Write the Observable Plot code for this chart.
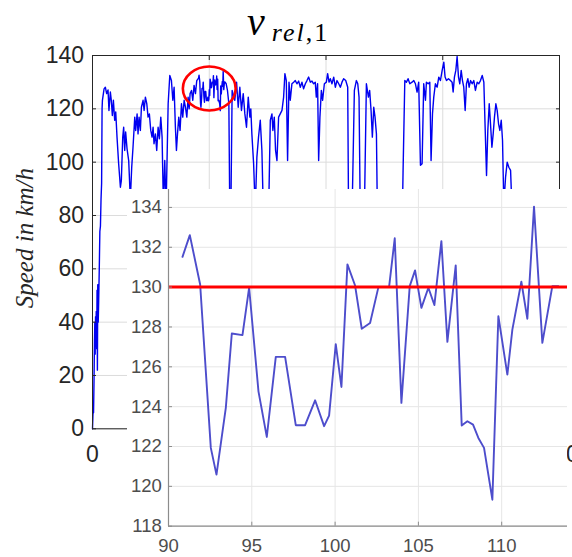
<!DOCTYPE html>
<html>
<head>
<meta charset="utf-8">
<script src="https://cdn.jsdelivr.net/npm/d3@7"></script>
<script src="https://cdn.jsdelivr.net/npm/@observablehq/plot@0.6"></script>
<style>
  html, body { margin: 0; padding: 0; background: #fff; }
  #fig { position: relative; width: 572px; height: 557px; overflow: hidden; }
  #main { position: absolute; left: 0; top: 0; }
  #inset { position: absolute; left: 127px; top: 189px; }
  #title {
    position: absolute; left: 247px; top: 2px;
    font-family: "Liberation Serif", "Times New Roman", serif; font-size: 40px; line-height: 40px;
    white-space: nowrap; color: #000;
  }
  #title sub { font-size: 26px; vertical-align: -6px; letter-spacing: 2px; margin-left: 7px; }
</style>
</head>
<body>
<div id="fig">
  <div id="main"></div>
  <div id="inset"></div>
  <div id="title"><i>v</i><sub><i>rel</i>,1</sub></div>
</div>
<script>
// Full drive: position along the route and recorded speed (km/h)
const mainX = [
  0, 0.6, 0.9, 1.3, 1.7, 2.0, 2.3, 2.6, 2.9, 3.2, 3.6, 3.9, 4.2, 4.5, 4.9, 5.3, 5.8, 6.3, 6.8, 7.3, 7.8, 8.2, 8.5,
  9.9, 11.0, 12.1, 13.3, 14.1, 15.3, 16.1, 17.0, 17.9, 19.0, 19.9, 21.0, 22.4, 23.9, 24.7, 25.9, 26.7, 27.6, 28.4, 29.6,
  31.0, 32.4, 33.6, 34.7, 36.2, 37.0, 38.2, 39.0, 39.9, 41.0, 41.9, 43.3, 44.2, 45.3, 46.5, 47.6, 48.7, 49.9, 51.0,
  51.9, 52.7, 53.9, 55.0, 56.2, 57.3, 58.5, 59.6, 60.7, 61.9, 63.0, 64.8, 66.2, 67.6, 68.8, 69.9, 71.0, 71.9, 72.8,
  73.9, 75.0, 76.2, 77.3, 78.5, 79.6, 80.8, 81.9, 82.8, 83.6, 84.8, 85.9, 87.0, 88.2, 89.3,
  114.5, 115.6, 116.8, 117.6, 118.6, 119.6, 121.9, 123.4, 124.8, 126.2, 127.6, 129.1, 130.5, 131.9, 133.4, 134.8,
  135.6, 136.5, 138.0, 139.4, 140.8, 142.2, 143.7, 145.1, 146.5, 148.5, 150.8, 152.3, 153.7, 154.5, 155.7, 156.8,
  158.0, 159.4, 160.8, 162.3, 163.7, 164.8, 166.0, 167.1, 168.3, 169.4, 170.8, 172.3, 173.7, 175.1, 176.6, 178.0,
  179.4, 180.8, 182.3, 183.7, 185.1, 186.6, 188.0, 189.4, 190.8, 191.7, 192.8, 193.7, 194.8, 196.0, 197.1, 198.6,
  200.3, 201.4, 202.6, 203.7, 205.1, 206.6, 208.0, 209.4, 210.9, 212.3, 213.7, 215.1, 216.9, 218.6, 219.4, 222.3,
  224.3, 226.0, 227.2, 228.3, 229.4, 232.9, 234.6, 236.3, 237.4, 238.6, 239.7, 240.9, 242.0, 243.2, 244.3, 252,
  260, 265.2, 266.0, 267.5, 268.9, 270.3, 271.8, 273.7, 275.2, 276.6, 278.0, 279.4, 280.9, 282.3, 283.7, 285.2,
  286.0, 287.5, 288.9, 290.0, 291.2, 292.3, 293.7, 295.2, 296.6, 298.0, 299.5, 300.9, 302.0, 303.2, 304.9, 306.6,
  308.0, 308.9, 310.0, 311.2, 312.3, 313.5, 314.6, 315.8, 316.9, 318.0, 319.2, 320.3, 321.5, 322.6, 323.8, 325.2,
  326.6, 328.0, 329.5, 330.9, 332.3, 333.8, 335.2, 336.3, 337.5, 338.6, 339.8, 340.9, 342.1, 343.2, 344.3, 345.5,
  346.6, 347.8, 348.9, 350.1, 351.2, 352.3, 353.8, 355.2, 356.6, 358.1, 359.5, 362, 364
];
const mainSpeed = [
  0, 8, 6, 18, 33, 40, 28, 42, 33, 44, 30, 52, 22, 54, 40, 48, 60, 74, 76, 86, 92, 120, 123.2,
  127.5, 128.1, 125.7, 127.1, 119.4, 126.3, 123.2, 117.5, 123.2, 115.7, 118.8, 109.4, 99.4, 90.6, 93.1, 109.4, 113.1, 104.4, 111.3, 105,
  100.6, 86, 98.2, 105.6, 116.9, 111.9, 118.1, 110.6, 116.9, 111.9, 120.6, 123.2, 119.4, 124.4, 121.9, 116.9, 118.1, 111.9, 109.4,
  113.1, 106.9, 110.6, 104.4, 113.1, 108.8, 116.9, 109.4, 84, 100.6, 82, 121.9, 132.5, 130.6, 123.2, 128.1, 113.1, 104.4, 110.6,
  116.9, 111.9, 121.9, 116.9, 123.2, 120.6, 116.9, 124.4, 120.0, 125.7, 126.9, 123.2, 128.8, 125.7, 130.6,
  129.4, 126.9, 121.9, 80, 85, 126.9, 123.2, 130, 120.6, 128.1, 119.4, 125.7, 118.1, 113.1, 124.4, 116.9,
  120, 110.6, 99.4, 82, 101.9, 109.4, 115.7, 104.4, 78, 70, 80, 115.7, 118.1, 111.9, 116.9, 104.4,
  100.6, 116.9, 118.1, 119.4, 124.4, 133.2, 130.6, 100.6, 130, 123.2, 129.4, 130, 130.6, 129.4, 130.4, 128.1,
  130, 127.5, 129.4, 130.6, 131.9, 130, 130.4, 129.4, 130, 124.4, 129.4, 100.6, 116.9, 126.9, 123.2, 129.4,
  130, 133.2, 130, 131.3, 129.4, 131.9, 128.1, 130.6, 129.4, 128.1, 130, 131.3, 130.6, 128.1, 75, 80,
  126.9, 130.6, 129.4, 124.4, 78, 82, 129.4, 124.4, 126.9, 119.4, 109.4, 120.6, 116.9, 110.6, 70, 55,
  62, 75, 96.3, 130.6, 130, 131.3, 129.4, 130, 130.6, 129.4, 126.3, 130, 98.8, 99.4, 129.4, 123.2,
  130, 129.4, 130, 100.6, 118.1, 124.4, 129.4, 128.1, 131.9, 130.6, 134.4, 137.5, 131.9, 130.6, 131.3, 130.6,
  130, 126.3, 131.9, 134.4, 139.6, 131.9, 129.4, 134.4, 130.6, 128.1, 119.4, 129.4, 131.3, 128.1, 130.6, 129.4,
  130.6, 126.9, 130, 129.4, 130.6, 132.5, 130, 113.1, 95, 111.9, 121.9, 114.4, 105.6, 110.6, 116.9, 121.9,
  119.4, 114.4, 111.9, 115.7, 108.1, 84, 94.4, 100, 98.1, 96.9, 80, 45, 0
];

// Detail of the highlighted stretch (same units, finer sampling)
const zoomX = [
  90.84, 91.28, 91.9, 92.54, 92.88, 93.44, 93.8, 94.44, 94.84, 95.4, 95.9, 96.44, 97.0, 97.64, 98.2, 98.8,
  99.34, 99.64, 100.04, 100.38, 100.74, 101.2, 101.6, 102.1, 102.6, 103.24, 103.58, 103.98, 104.48, 104.8,
  105.18, 105.6, 105.96, 106.38, 106.74, 107.24, 107.6, 107.94, 108.28, 108.6, 108.94, 109.44, 109.8, 110.34,
  110.64, 111.18, 111.54, 111.94, 112.44, 113.04, 113.4
];
const zoomSpeed = [
  131.52, 132.61, 130.13, 121.93, 120.59, 123.94, 127.67, 127.59, 129.97, 124.77, 122.48, 126.5, 126.5, 123.07, 123.07, 124.32,
  123.02, 123.55, 127.14, 124.99, 131.14, 130.08, 127.91, 128.2, 130.0, 130.0, 132.45, 124.19, 130.05, 130.84,
  128.96, 129.97, 129.1, 132.31, 127.25, 131.09, 123.05, 123.27, 123.1, 122.43, 121.93, 119.33, 128.54, 125.61,
  127.87, 130.27, 128.41, 134.04, 127.2, 130.05, 130.05
];

const speedLimit = 130;
const zoomWindow = { x: 100, v: 127.6 };

const mainXTicks = [0, 100, 200, 300, 400];
const mainYTicks = [0, 20, 40, 60, 80, 100, 120, 140];
const zoomXTicks = [90, 95, 100, 105, 110];
const zoomYTicks = [118, 120, 122, 124, 126, 128, 130, 132, 134];
const yLabel = "Speed in km/h";

const zoomPoints = zoomX.map((x, i) => ({ x, v: zoomSpeed[i] }));
const coarse = mainX.map((x, i) => ({ x, v: mainSpeed[i] }));
const trace = [
  ...coarse.filter(d => d.x < zoomX[0]),
  ...zoomPoints,
  ...coarse.filter(d => d.x > zoomX[zoomX.length - 1])
];

const axisInk = "#262626";

const mainPlot = Plot.plot({
  width: 572,
  height: 557,
  marginTop: 55,
  marginLeft: 92,
  marginRight: 13,
  marginBottom: 128.7,
  x: { domain: [0, 400] },
  y: { domain: [0, 140] },
  style: { fontFamily: "'Liberation Sans', Arial, sans-serif", fontSize: "23px", color: axisInk, background: "#fff", overflow: "visible" },
  marks: [
    Plot.gridX(mainXTicks, { stroke: "#dcdcdc", strokeOpacity: 1 }),
    Plot.gridY(mainYTicks, { stroke: "#dcdcdc", strokeOpacity: 1 }),
    Plot.line(trace, { x: "x", y: "v", stroke: "#0000f0", strokeWidth: 1.4 }),
    Plot.dot([zoomWindow], { x: "x", y: "v", r: 22, fill: "none", stroke: "#ff0000", strokeWidth: 2.6 }),
    Plot.frame({ stroke: axisInk, strokeWidth: 1 }),
    Plot.axisX(mainXTicks, { anchor: "bottom", tickSize: -4, tickPadding: 20.7, label: null }),
    Plot.axisX(mainXTicks, { anchor: "top", tickSize: -4, tickFormat: () => "", label: null }),
    Plot.axisY(mainYTicks, { anchor: "left", tickSize: -4, tickPadding: 12.4, label: null }),
    Plot.axisY(mainYTicks, { anchor: "right", tickSize: -4, tickFormat: () => "", label: null }),
    Plot.text([yLabel], {
      frameAnchor: "left", textAnchor: "middle", rotate: -90, lineAnchor: "bottom",
      dx: -60, dy: -4,
      fontFamily: "'Liberation Serif', 'Times New Roman', serif", fontStyle: "italic", fontSize: 25, fill: axisInk
    })
  ]
});

// Stretch the round highlight marker horizontally into an ellipse
mainPlot.querySelectorAll("circle").forEach(el => {
  const cx = +el.getAttribute("cx") || 0, cy = +el.getAttribute("cy") || 0;
  const base = el.getAttribute("transform") || "";
  el.setAttribute("vector-effect", "non-scaling-stroke");
  el.setAttribute("transform", `translate(${cx},${cy}) scale(1.2,1) translate(${-cx},${-cy}) ${base}`);
});
document.getElementById("main").append(mainPlot);

const zoomInk = "#4d4d4d";
const insetPlot = Plot.plot({
  width: 440,
  height: 368,
  marginTop: 0,
  marginLeft: 41,
  marginRight: 0,
  marginBottom: 31.3,
  x: { domain: [90, 113.95] },
  y: { domain: [118, 134.9] },
  style: { fontFamily: "'Liberation Sans', Arial, sans-serif", fontSize: "18.5px", color: zoomInk, background: "#fff", overflow: "visible" },
  marks: [
    Plot.gridX(zoomXTicks, { stroke: "#e6e6e6", strokeOpacity: 1 }),
    Plot.gridY(zoomYTicks, { stroke: "#e6e6e6", strokeOpacity: 1 }),
    Plot.line(zoomPoints, { x: "x", y: "v", stroke: "#4d4dcc", strokeWidth: 1.9 }),
    Plot.ruleY([speedLimit], { stroke: "#ff0000", strokeWidth: 3 }),
    Plot.ruleX([zoomXTicks[0]], { stroke: "#8c8c8c", strokeWidth: 1.2 }),
    Plot.ruleY([zoomYTicks[0]], { stroke: "#8c8c8c", strokeWidth: 1.2 }),
    Plot.axisX(zoomXTicks, { anchor: "bottom", tickSize: -4, tickPadding: 16.8, stroke: "#8c8c8c", label: null }),
    Plot.axisY(zoomYTicks, { anchor: "left", tickSize: -4, tickPadding: 10.7, stroke: "#8c8c8c", label: null })
  ]
});
document.getElementById("inset").append(insetPlot);
</script>
</body>
</html>
